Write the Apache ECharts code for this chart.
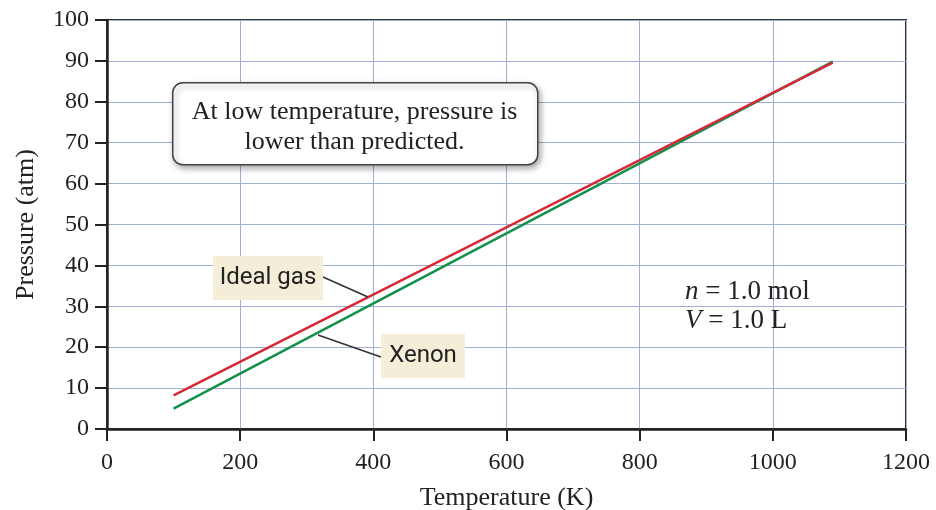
<!DOCTYPE html>
<html>
<head>
<meta charset="utf-8">
<script src="https://cdn.jsdelivr.net/npm/echarts@6/dist/echarts.min.js"></script>
<style>
  html, body { margin: 0; padding: 0; background: #fff; }
  #chart { width: 936px; height: 510px; }
</style>
</head>
<body>
<div id="chart"></div>
<script>
  // Données
  const temperatures = [100, 1090];
  const idealGas = [8.2, 89.6];
  const xenon = [5.0, 89.8];
  const xTicks = [0, 200, 400, 600, 800, 1000, 1200];
  const yTicks = [0, 10, 20, 30, 40, 50, 60, 70, 80, 90, 100];

  const serif = '"Liberation Serif", "DejaVu Serif", serif';
  const sans = 'Roboto, "Noto Sans", sans-serif';
  const gridColor = '#9fb0d3';

  const chart = echarts.init(document.getElementById('chart'));

  const option = {
    animation: false,
    grid: {
      left: 107, right: 30, top: 20, bottom: 81,
      outerBoundsMode: 'none',
      show: true, borderColor: '#333', borderWidth: 2
    },
    xAxis: {
      type: 'value',
      min: xTicks[0], max: xTicks[xTicks.length - 1], interval: 200,
      name: 'Temperature (K)',
      nameLocation: 'middle', nameGap: 56,
      nameTextStyle: { fontFamily: serif, fontSize: 26, color: '#222' },
      axisLine: { lineStyle: { color: '#222', width: 2.5 } },
      axisTick: { show: true, inside: false, length: 12, lineStyle: { color: '#222', width: 2 } },
      axisLabel: { fontFamily: serif, fontSize: 24, color: '#222', margin: 22, formatter: v => String(v) },
      splitLine: { lineStyle: { color: gridColor, width: 1 } }
    },
    yAxis: {
      type: 'value',
      min: yTicks[0], max: yTicks[yTicks.length - 1], interval: 10,
      name: 'Pressure (atm)',
      nameLocation: 'middle', nameGap: 68,
      nameTextStyle: { fontFamily: serif, fontSize: 26, color: '#222' },
      axisLine: { lineStyle: { color: '#222', width: 2.5 } },
      axisTick: { show: true, inside: false, length: 12, lineStyle: { color: '#222', width: 2 } },
      axisLabel: { fontFamily: serif, fontSize: 24, color: '#222', margin: 18, formatter: v => String(v) },
      splitLine: { lineStyle: { color: gridColor, width: 1 } }
    },
    series: [
      {
        name: 'Xenon',
        type: 'line',
        showSymbol: false,
        data: temperatures.map((t, i) => [t, xenon[i]]),
        lineStyle: { color: '#12904c', width: 2.5 }
      },
      {
        name: 'Ideal gas',
        type: 'line',
        showSymbol: false,
        data: temperatures.map((t, i) => [t, idealGas[i]]),
        lineStyle: { color: '#d42a37', width: 2.5 }
      }
    ],
    graphic: [
      // encadré d'annotation
      {
        type: 'rect', left: 172, top: 82, z: 20,
        shape: { width: 365, height: 82, r: 10 },
        style: {
          fill: '#fff', stroke: '#444', lineWidth: 1.5,
          shadowBlur: 6, shadowOffsetX: 2, shadowOffsetY: 3, shadowColor: 'rgba(0,0,0,0.35)'
        }
      },
      {
        type: 'text', z: 21, x: 354.5, y: 127,
        style: {
          text: 'At low temperature, pressure is\nlower than predicted.',
          font: '26px ' + serif, fill: '#222', align: 'center', verticalAlign: 'middle',
          lineHeight: 30
        }
      },
      // étiquettes des courbes
      {
        type: 'line', z: 19,
        shape: { x1: 323, y1: 277, x2: 368, y2: 297 },
        style: { stroke: '#333', lineWidth: 1.5 }
      },
      {
        type: 'rect', left: 213, top: 256, z: 20,
        shape: { width: 110, height: 44 },
        style: { fill: '#f4edd8' }
      },
      {
        type: 'text', z: 21, x: 268, y: 278,
        style: { text: 'Ideal gas', font: '24px ' + sans, fill: '#222', align: 'center', verticalAlign: 'middle' }
      },
      {
        type: 'line', z: 19,
        shape: { x1: 318, y1: 335, x2: 381, y2: 357 },
        style: { stroke: '#333', lineWidth: 1.5 }
      },
      {
        type: 'rect', left: 381, top: 334, z: 20,
        shape: { width: 84, height: 44 },
        style: { fill: '#f4edd8' }
      },
      {
        type: 'text', z: 21, x: 423, y: 356,
        style: { text: 'Xenon', font: '24px ' + sans, fill: '#222', align: 'center', verticalAlign: 'middle' }
      },
      // conditions
      {
        type: 'text', z: 21, x: 685, y: 306,
        style: {
          text: '{i|n} = 1.0 mol\n{i|V} = 1.0 L',
          font: '27px ' + serif, fill: '#222', verticalAlign: 'middle', lineHeight: 29,
          rich: { i: { fontStyle: 'italic', fontFamily: serif, fontSize: 27, fill: '#222' } }
        }
      }
    ]
  };

  chart.setOption(option);
</script>
</body>
</html>
